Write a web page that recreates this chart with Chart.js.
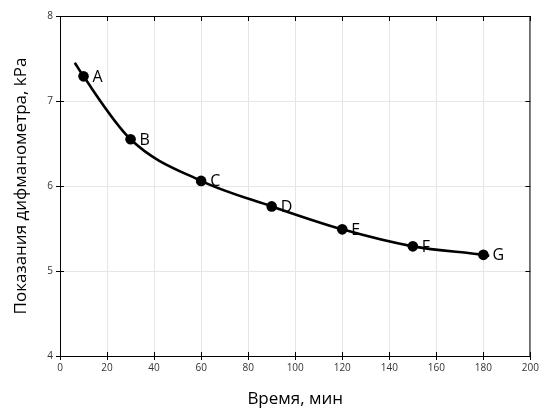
<!DOCTYPE html>
<html>
<head>
<meta charset="utf-8">
<script src="https://cdn.jsdelivr.net/npm/chart.js@4"></script>
<style>
  html, body { margin: 0; padding: 0; background: #fff; }
  #wrap { width: 541px; height: 412px; }
</style>
</head>
<body>
<div id="wrap"><canvas id="c" width="541" height="412"></canvas></div>
<script>
// Measured readings
const timeMin = [10, 30, 60, 90, 120, 150, 180];
const pressureKPa = [7.29, 6.55, 6.06, 5.76, 5.49, 5.29, 5.19];
const pointNames = ['A', 'B', 'C', 'D', 'E', 'F', 'G'];

// Ends of the drawn trend curve beyond the first and last readings
const curveStart = { x: 6.3, y: 7.45 };
const curveEnd = { x: 182.5, y: 5.18 };

const xTicks = [0, 20, 40, 60, 80, 100, 120, 140, 160, 180, 200];
const yTicks = [4, 5, 6, 7, 8];

const readings = timeMin.map((t, i) => ({ x: t, y: pressureKPa[i] }));
const curve = [curveStart, ...readings, curveEnd];

Chart.defaults.font.family = '"Open Sans", "DejaVu Sans", sans-serif';

// Frame with inward tick marks on all four sides, plus point letters
const framePlugin = {
  id: 'frame',
  afterDraw(chart) {
    const { ctx, chartArea: a, scales } = chart;
    ctx.save();
    ctx.strokeStyle = '#000';
    ctx.lineWidth = 1;
    ctx.strokeRect(a.left + 0.5, a.top + 0.5, a.right - a.left - 1, a.bottom - a.top);
    ctx.beginPath();
    xTicks.forEach(v => {
      const px = Math.round(scales.x.getPixelForValue(v)) + 0.5;
      ctx.moveTo(px, a.bottom); ctx.lineTo(px, a.bottom - 4);
      ctx.moveTo(px, a.top); ctx.lineTo(px, a.top + 5);
    });
    yTicks.forEach(v => {
      const py = Math.round(scales.y.getPixelForValue(v)) + 0.5;
      ctx.moveTo(a.left, py); ctx.lineTo(a.left + 4, py);
      ctx.moveTo(a.right, py); ctx.lineTo(a.right - 5, py);
    });
    ctx.stroke();
    ctx.restore();
  },
  afterDatasetsDraw(chart) {
    const { ctx } = chart;
    const meta = chart.getDatasetMeta(1);
    ctx.save();
    ctx.fillStyle = '#000';
    ctx.font = '16px "Open Sans", "DejaVu Sans", sans-serif';
    ctx.textBaseline = 'middle';
    ctx.textAlign = 'left';
    meta.data.forEach((el, i) => {
      ctx.fillText(pointNames[i], el.x + 9, el.y + 1);
    });
    ctx.restore();
  }
};

new Chart(document.getElementById('c'), {
  type: 'scatter',
  data: {
    datasets: [
      {
        data: curve,
        showLine: true,
        borderColor: '#000',
        borderWidth: 2.6,
        pointRadius: 0,
        cubicInterpolationMode: 'monotone',
        fill: false
      },
      {
        data: readings,
        showLine: false,
        pointRadius: 5.3,
        pointBackgroundColor: '#000',
        pointBorderColor: '#000',
        pointBorderWidth: 0
      }
    ]
  },
  options: {
    responsive: false,
    animation: false,
    devicePixelRatio: 1,
    layout: { padding: { top: 16, right: 10, left: 0, bottom: 0 } },
    plugins: { legend: { display: false }, tooltip: { enabled: false } },
    scales: {
      x: {
        type: 'linear',
        min: 0, max: 200,
        afterBuildTicks(scale) { scale.ticks = xTicks.map(v => ({ value: v })); },
        afterFit(scale) { scale.height = 56; },
        border: { color: '#000', width: 1 },
        grid: { color: '#e6e6e6', tickColor: '#000', tickLength: 4, lineWidth: 1 },
        ticks: { color: '#333', font: { size: 10 }, padding: 2, maxRotation: 0 },
        title: {
          display: true,
          text: 'Время, мин',
          color: '#000',
          font: { size: 17 },
          padding: { top: 0, bottom: 3 }
        }
      },
      y: {
        type: 'linear',
        min: 4, max: 8,
        afterBuildTicks(scale) { scale.ticks = yTicks.map(v => ({ value: v })); },
        afterFit(scale) { scale.width = 60; },
        border: { color: '#000', width: 1 },
        grid: { color: '#e6e6e6', tickColor: '#000', tickLength: 4, lineWidth: 1 },
        ticks: { color: '#333', font: { size: 10 }, padding: 3 },
        title: {
          display: true,
          text: 'Показания дифманометра, kPa',
          color: '#000',
          font: { size: 17 },
          padding: { top: 11, bottom: 0 }
        }
      }
    }
  },
  plugins: [framePlugin]
});
</script>
</body>
</html>
